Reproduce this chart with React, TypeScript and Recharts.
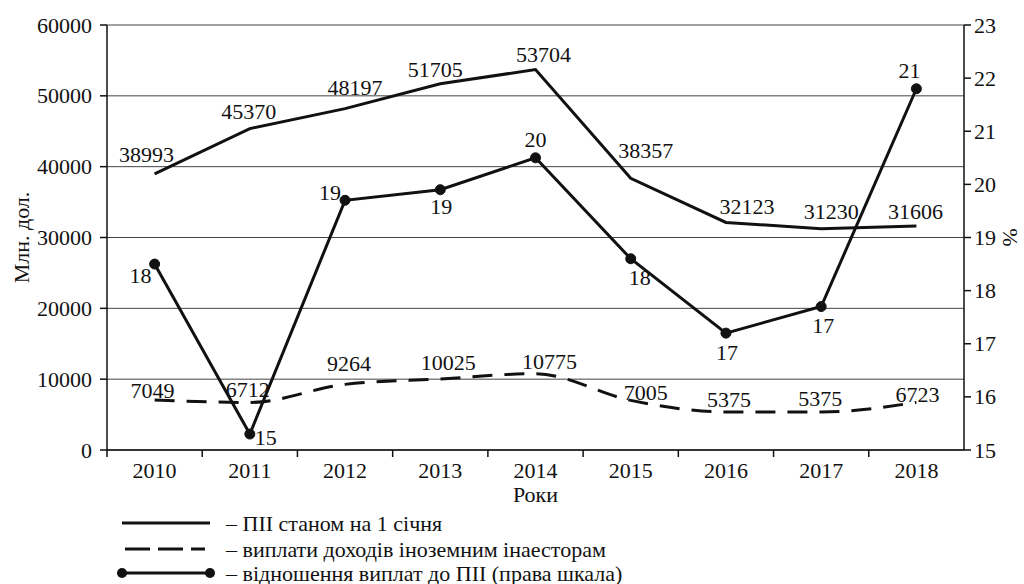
import { ComposedChart, Line, XAxis, YAxis, CartesianGrid, LabelList } from 'recharts';

const years = ['2010', '2011', '2012', '2013', '2014', '2015', '2016', '2017', '2018'];
// ПІІ станом на 1 січня, млн дол.
const fdiStock = [38993, 45370, 48197, 51705, 53704, 38357, 32123, 31230, 31606];
// виплати доходів іноземним інвесторам, млн дол.
const incomePayments = [7049, 6712, 9264, 10025, 10775, 7005, 5375, 5375, 6723];
// відношення виплат до ПІІ, % (as plotted on the right scale)
const paymentRatio = [18.5, 15.3, 19.7, 19.9, 20.5, 18.6, 17.2, 17.7, 21.8];
const ratioLabels = ['18', '15', '19', '19', '20', '18', '17', '17', '21'];
const leftTicks = [0, 10000, 20000, 30000, 40000, 50000, 60000];
const rightTicks = [15, 16, 17, 18, 19, 20, 21, 22, 23];

const data = years.map((year, i) => ({
    year,
    fdi: fdiStock[i],
    pay: incomePayments[i],
    ratio: paymentRatio[i],
}));

// label nudges [dx, dy] so texts sit where the original put them
const fdiOffsets = [[-8, -19], [-1, -17], [10, -21], [-5, -14], [8, -15], [15, -28], [21, -16], [10, -17], [-1, -15]];
const payOffsets = [[-2, -10], [-2, -13], [4, -21], [8, -16], [14, -12], [15, -8], [3, -12], [-1, -13], [1, -8]];
const ratioOffsets = [[-14, 11], [16, 3], [-15, -8], [1, 17], [0, -18], [9, 19], [1, 19], [2, 19], [-7, -18]];

const FONT = '"Liberation Serif", "Times New Roman", serif';
const W = 1024;
const H = 584;
const PLOT_LEFT = 107;
const PLOT_RIGHT = 964;
const BAND = (PLOT_RIGHT - PLOT_LEFT) / years.length;
const txt = { fontFamily: FONT, fontSize: 22, fill: '#111' };

function makeLabel(offsets: number[][], texts?: string[]) {
    return (props: any) => {
        const { x, y, index, value } = props;
        const [dx, dy] = offsets[index] || [0, 0];
        return (
            <text x={x + dx} y={y + dy} textAnchor="middle" dominantBaseline="central" style={txt}>
                {texts ? texts[index] : value}
            </text>
        );
    };
}

function YearTick(props: any) {
    const { x, y, payload } = props;
    return (
        <g>
            <line x1={x - BAND / 2} y1={y} x2={x - BAND / 2} y2={y + 7} stroke="#111" strokeWidth={1.5} />
            <text x={x} y={y + 28} textAnchor="middle" style={txt}>
                {payload.value}
            </text>
        </g>
    );
}

function ValueTick(props: any) {
    const { x, y, payload, textAnchor } = props;
    return (
        <text x={x} y={y} textAnchor={textAnchor} dominantBaseline="central" style={txt}>
            {payload.value}
        </text>
    );
}

function Legend() {
    const rows = [
        { y: 523, text: '– ПІІ станом на 1 січня', dash: undefined, dots: false },
        { y: 549, text: '– виплати доходів іноземним інаесторам', dash: '25 8', dots: false },
        { y: 573, text: '– відношення виплат до ПІІ (права шкала)', dash: undefined, dots: true },
    ];
    return (
        <svg width={W} height={H} style={{ position: 'absolute', left: 0, top: 0, pointerEvents: 'none' }}>
            {rows.map((r) => (
                <g key={r.y}>
                    <line x1={r.dash ? 125 : 122} y1={r.y} x2={r.dash ? 205 : 210} y2={r.y} stroke="#111" strokeWidth={3} strokeDasharray={r.dash} />
                    {r.dots && <circle cx={122} cy={r.y} r={5} fill="#111" />}
                    {r.dots && <circle cx={210} cy={r.y} r={5} fill="#111" />}
                    <text x={226} y={r.y} dominantBaseline="central" style={txt}>
                        {r.text}
                    </text>
                </g>
            ))}
        </svg>
    );
}

export default function App() {
    return (
        <div style={{ position: 'absolute', left: 0, top: 0, width: W, height: H, background: '#fff' }}>
            <ComposedChart width={W} height={H} data={data} margin={{ top: 25, right: 0, bottom: 74, left: 0 }}>
                <CartesianGrid yAxisId="left" vertical={false} stroke="#444" strokeWidth={1} />
                <XAxis
                    dataKey="year"
                    height={60}
                    padding={{ left: BAND / 2, right: BAND / 2 }}
                    tick={<YearTick />}
                    tickLine={false}
                    tickSize={0}
                    tickMargin={0}
                    interval={0}
                    axisLine={{ stroke: '#111', strokeWidth: 1.5 }}
                    label={{
                        content: (p: any) => (
                            <text x={p.viewBox.x + p.viewBox.width / 2} y={502} textAnchor="middle" style={txt}>
                                Роки
                            </text>
                        ),
                    }}
                />
                <YAxis
                    yAxisId="left"
                    width={PLOT_LEFT}
                    domain={[0, 60000]}
                    ticks={leftTicks}
                    interval={0}
                    tickSize={7}
                    tickMargin={8}
                    tick={<ValueTick />}
                    tickLine={{ stroke: '#111', strokeWidth: 1.5 }}
                    axisLine={{ stroke: '#111', strokeWidth: 1.5 }}
                    label={{
                        content: (p: any) => (
                            <text
                                transform={`translate(21, ${p.viewBox.y + p.viewBox.height / 2}) rotate(-90)`}
                                textAnchor="middle"
                                dominantBaseline="central"
                                style={txt}
                            >
                                Млн. дол.
                            </text>
                        ),
                    }}
                />
                <YAxis
                    yAxisId="right"
                    orientation="right"
                    width={W - PLOT_RIGHT}
                    domain={[15, 23]}
                    ticks={rightTicks}
                    interval={0}
                    tickSize={7}
                    tickMargin={3}
                    tick={<ValueTick />}
                    tickLine={{ stroke: '#111', strokeWidth: 1.5 }}
                    axisLine={{ stroke: '#111', strokeWidth: 1.5 }}
                    label={{
                        content: (p: any) => (
                            <text
                                transform={`translate(1010, ${p.viewBox.y + p.viewBox.height / 2}) rotate(90)`}
                                textAnchor="middle"
                                dominantBaseline="central"
                                style={txt}
                            >
                                %
                            </text>
                        ),
                    }}
                />
                <Line yAxisId="left" dataKey="fdi" type="linear" stroke="#111" strokeWidth={3} dot={false} isAnimationActive={false}>
                    <LabelList dataKey="fdi" content={makeLabel(fdiOffsets)} />
                </Line>
                <Line
                    yAxisId="left"
                    dataKey="pay"
                    type="monotone"
                    stroke="#111"
                    strokeWidth={3}
                    strokeDasharray="20 12"
                    dot={false}
                    isAnimationActive={false}
                >
                    <LabelList dataKey="pay" content={makeLabel(payOffsets)} />
                </Line>
                <Line
                    yAxisId="right"
                    dataKey="ratio"
                    type="linear"
                    stroke="#111"
                    strokeWidth={3}
                    dot={{ r: 5, fill: '#111', stroke: '#111', strokeWidth: 1 }}
                    isAnimationActive={false}
                >
                    <LabelList dataKey="ratio" content={makeLabel(ratioOffsets, ratioLabels)} />
                </Line>
            </ComposedChart>
            <Legend />
        </div>
    );
}
